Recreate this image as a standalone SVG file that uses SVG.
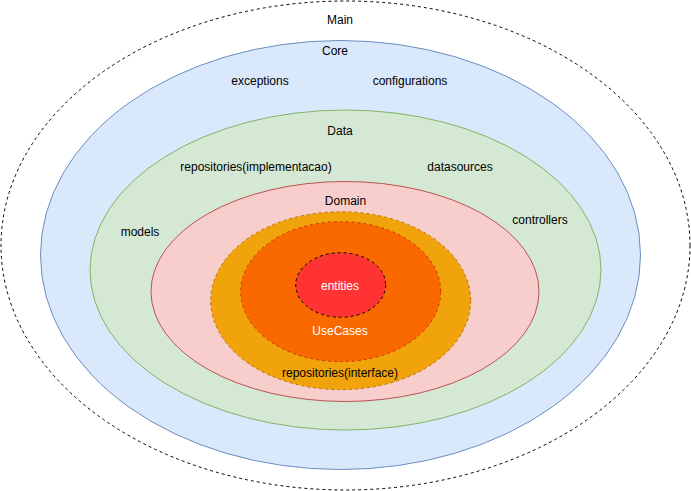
<svg xmlns="http://www.w3.org/2000/svg" width="691" height="491" viewBox="0 0 691 491">
<style>
text{font-family:"Liberation Sans",Arial,Helvetica,sans-serif;font-size:12px;fill:#000;text-anchor:middle}
.w{fill:#fff}
.dash{stroke-dasharray:3 3}
</style>
<rect width="691" height="491" fill="#fff"/>
<g id="main">
<ellipse cx="345.5" cy="245.5" rx="344.5" ry="244.5" fill="#fff" stroke="#000" class="dash"/>
<text x="340" y="24">Main</text>
</g>
<g id="core">
<ellipse cx="340.5" cy="255" rx="300" ry="214.5" fill="#dae8fc" stroke="#6c8ebf"/>
<text x="335" y="55">Core</text>
<text x="260" y="85">exceptions</text>
<text x="410" y="85">configurations</text>
</g>
<g id="data">
<ellipse cx="345.5" cy="270" rx="255.5" ry="160" fill="#d5e8d4" stroke="#82b366"/>
<text x="340" y="135">Data</text>
<text x="256" y="171">repositories(implementacao)</text>
<text x="460" y="171">datasources</text>
<text x="140" y="236">models</text>
<text x="540" y="224">controllers</text>
</g>
<g id="domain">
<ellipse cx="345" cy="291.5" rx="194" ry="110" fill="#f8cecc" stroke="#b85450"/>
<text x="345.5" y="205">Domain</text>
</g>
<g id="repositories-interface">
<ellipse cx="340.7" cy="300.7" rx="130" ry="89" fill="#f0a30a" stroke="#bd7000" class="dash"/>
<text x="340" y="377">repositories(interface)</text>
</g>
<g id="usecases">
<ellipse cx="340.7" cy="291.7" rx="100" ry="70" fill="#fa6800" stroke="#c73500" class="dash"/>
<text x="340" y="335" class="w">UseCases</text>
</g>
<g id="entities">
<ellipse cx="340.7" cy="285" rx="45" ry="32.3" fill="#ff3333" stroke="#000" class="dash"/>
<text x="340" y="290" class="w">entities</text>
</g>
<g id="connectors"/>
</svg>
